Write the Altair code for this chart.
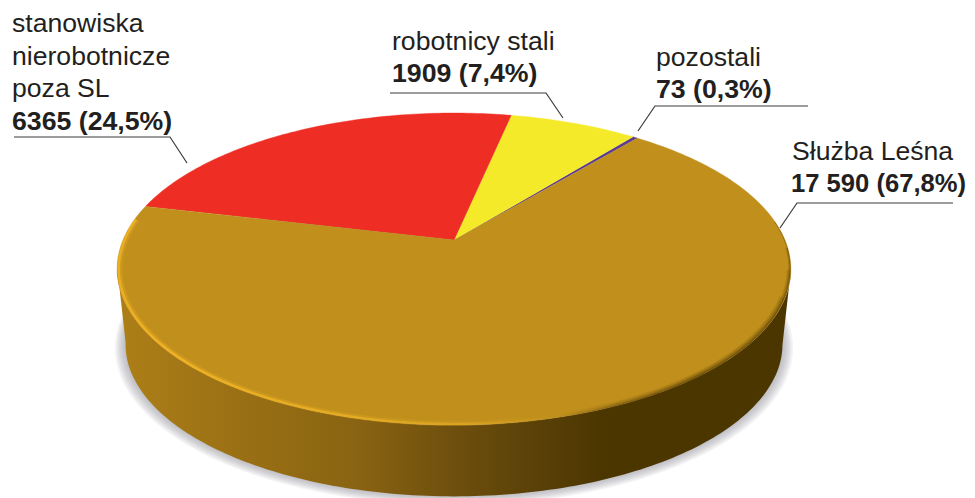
import math
import altair as alt
import pandas as pd

# --- values ---
names = ["pozostali", "robotnicy stali", "stanowiska nierobotnicze poza SL", "Służba Leśna"]
values = [73, 1909, 6365, 17590]
colors = ["#5b3a94", "#f5ea2a", "#ee2e24", "#c1901c"]
start_deg = 50.7

plain_text = ["stanowiska", "nierobotnicze", "poza SL", "robotnicy stali", "pozostali", "Służba Leśna"]
plain_x = [12, 12, 12, 392, 656, 792]
plain_y = [32, 65, 97, 50, 66, 160]
bold_text = ["6365 (24,5%)", "1909 (7,4%)", "73 (0,3%)"]
bold_x = [12, 392, 656]
bold_y = [130, 82, 98]
last_text = ["17 590 (67,8%)"]
last_x = [791]
last_y = [192]

leaders = [
    [(14, 137), (170, 137), (187, 163)],
    [(390, 93), (546, 93), (563, 118)],
    [(638, 131), (655, 106), (808, 106)],
    [(780, 228), (797, 203), (953, 203)],
]

# --- view geometry of the tilted disc ---
CX, CY, A, B, K = 454.0, 240.0, 331.0, 150.6, 0.186
WALL_S, WALL_DY = 0.975, 76.0


def rim(deg, s=1.0, dy=0.0):
    a = math.radians(deg)
    d = 1 + K * math.sin(a)
    return CX + s * A * math.cos(a) / d, CY + dy - s * B * math.sin(a) / d


def path(points):
    return pd.DataFrame([{"x": p[0], "y": p[1], "i": i} for i, p in enumerate(points)])


x_enc = alt.X("x:Q", scale=alt.Scale(domain=[8, 967], nice=False, zero=False), axis=None)
y_enc = alt.Y("y:Q", scale=alt.Scale(domain=[498, 8], nice=False, zero=False), axis=None)


def shape(points, **mark):
    return alt.Chart(path(points)).mark_line(**mark).encode(x=x_enc, y=y_enc, order=alt.Order("i:Q"))


def grad(stops):
    return alt.LinearGradient(
        gradient="linear", x1=0, y1=0, x2=1, y2=0,
        stops=[alt.GradientStop(offset=o, color=c) for o, c in stops],
    )


layers = []

# soft shadow under the disc
for n in range(7):
    pts = [rim(d, WALL_S + 0.0045 * (n + 1), WALL_DY + 0.5 * n) for d in range(0, 361, 2)]
    layers.append(shape(pts, fill="#7e7e8e", fillOpacity=0.085, strokeWidth=0))

# side wall
tangent = math.degrees(math.asin(-K))
front = list(range(int(180 - tangent), int(360 + tangent) + 1))
wall = [rim(d) for d in front] + [rim(d, WALL_S, WALL_DY) for d in reversed(front)]
layers.append(shape(wall, strokeWidth=0, fill=grad([
    (0.0, "#ad7f18"), (0.18, "#9a7014"), (0.35, "#8a6412"), (0.5, "#6e4f0d"),
    (0.62, "#5a4108"), (0.72, "#4c3600"), (1.0, "#4c3600"),
])))

# top face sectors
total = sum(values)
angle = start_deg
for v, c in zip(values, colors):
    sweep = 360.0 * v / total
    steps = max(2, int(sweep))
    pts = [(CX, CY)] + [rim(angle + sweep * j / steps) for j in range(steps + 1)]
    layers.append(shape(pts, fill=c, stroke=c, strokeWidth=0.4))
    angle += sweep

# rim: soft dark edge on the right, tapering towards the back
for stop_deg, s, width, alpha in [
    (368, 0.998, 1.0, 0.35), (358, 0.996, 2.0, 0.3), (350, 0.993, 3.5, 0.22), (340, 0.990, 5.0, 0.15),
]:
    edge = [rim(d, s) for d in range(285, stop_deg)]
    layers.append(shape(edge, strokeWidth=width, stroke=grad([
        (0.0, "rgba(76,54,0,0)"), (0.25, f"rgba(76,54,0,{alpha * 0.6})"), (0.6, f"rgba(76,54,0,{alpha})"), (1.0, f"rgba(76,54,0,{alpha})"),
    ])))

# highlight along the left front
for s, width, alpha in [(0.992, 5.0, 0.3), (0.995, 2.4, 1.0)]:
    high = [rim(d, s) for d in range(172, 285)]
    layers.append(shape(high, strokeWidth=width, stroke=grad([
        (0.0, f"rgba(240,178,36,{alpha * 0.85})"), (0.1, f"rgba(240,178,36,{alpha})"), (0.5, f"rgba(236,176,36,{alpha * 0.8})"), (0.8, f"rgba(236,176,36,{alpha * 0.5})"), (1.0, "rgba(236,176,36,0)"),
    ])))

# leader lines
for pts in leaders:
    layers.append(shape(pts, stroke="#3c3a3b", strokeWidth=1.2))

# labels
plain = pd.DataFrame({"x": plain_x, "y": plain_y, "t": plain_text})
bold = pd.DataFrame({"x": bold_x, "y": bold_y, "t": bold_text})
last = pd.DataFrame({"x": last_x, "y": last_y, "t": last_text})
for df, weight, size in ((plain, "normal", 26.6), (bold, "bold", 26.7), (last, "bold", 25.6)):
    layers.append(
        alt.Chart(df).mark_text(
            align="left", baseline="alphabetic", font="Liberation Sans",
            fontSize=size, fontWeight=weight, color="#231f20",
        ).encode(x=x_enc, y=y_enc, text="t:N")
    )

chart = alt.layer(*layers).properties(
    width=959, height=490,
    padding=0,
    autosize=alt.AutoSizeParams(type="none"),
    background="white",
).configure_view(stroke=None)

chart.save("out.html", embed_options={"renderer": "svg", "actions": False})
